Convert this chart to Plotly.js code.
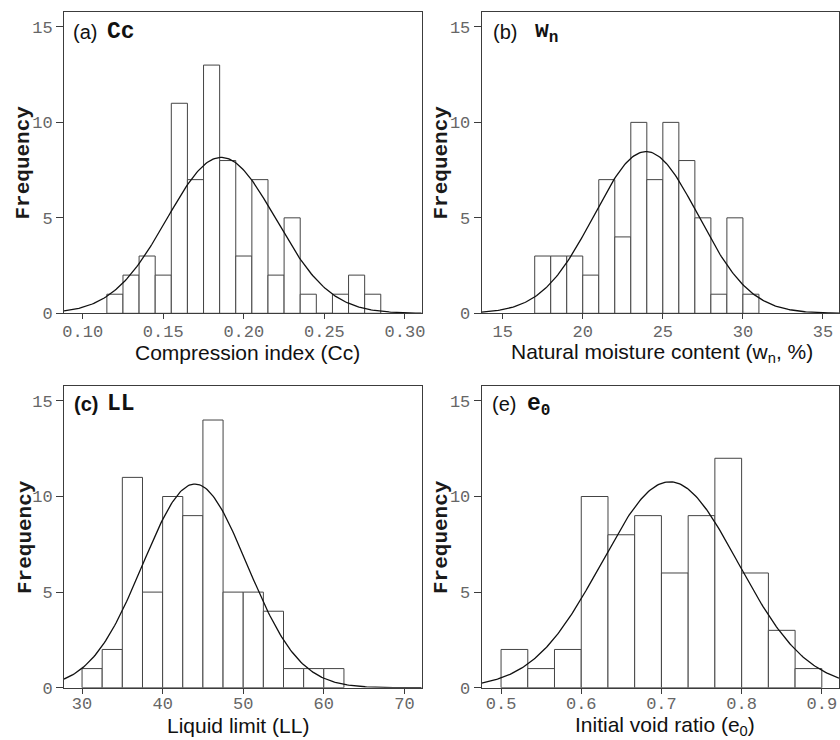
<!DOCTYPE html>
<html>
<head>
<meta charset="utf-8">
<script src="https://cdn.plot.ly/plotly-3.0.1.min.js"></script>
<style>html,body{margin:0;padding:0;background:#fff;}#chart{width:840px;height:740px;}</style>
</head>
<body>
<div id="chart"></div>
<script>
// (a) Compression index Cc — bin centres and counts
const ccBins = [0.12,0.13,0.14,0.15,0.16,0.17,0.18,0.19,0.20,0.21,0.22,0.23,0.24,0.25,0.26,0.27,0.28];
const ccCounts = [1,2,3,2,11,7,13,8,3,7,2,5,1,0,1,2,1];
const ccWidth = 0.01;
const ccMean = 0.186, ccSd = 0.0337;

// (b) Natural moisture content wn
const wnBins = [17.5,18.5,19.5,20.5,21.5,22.5,23.5,24.5,25.5,26.5,27.5,28.5,29.5,30.5];
const wnCounts = [3,3,3,2,7,4,10,7,10,8,5,1,5,1];
const wnWidth = 1;
const wnMean = 23.95, wnSd = 3.25;

// (c) Liquid limit LL
const llBins = [31.25,33.75,36.25,38.75,41.25,43.75,46.25,48.75,51.25,53.75,56.25,58.75,61.25];
const llCounts = [1,2,11,5,10,9,14,5,5,4,1,1,1];
const llWidth = 2.5;
const llMean = 44.0, llSd = 6.46;

// (e) Initial void ratio e0
const e0Bins = [0.5167,0.55,0.5833,0.6167,0.65,0.6833,0.7167,0.75,0.7833,0.8167,0.85,0.8833];
const e0Counts = [2,1,2,10,8,9,6,9,12,6,3,1];
const e0Width = 1/30;
const e0Mean = 0.7104, e0Sd = 0.0852;

const xRanges = {
  a: [0.0884, 0.3104],
  b: [13.69, 36.0],
  c: [27.76, 72.15],
  e: [0.4759, 0.9214]
};

function fitCurve(mean, sd, counts, width, range) {
  const n = counts.reduce((s, v) => s + v, 0);
  const xs = [], ys = [];
  const steps = 240;
  for (let i = 0; i <= steps; i++) {
    const x = range[0] + (range[1] - range[0]) * i / steps;
    const z = (x - mean) / sd;
    xs.push(x);
    ys.push(n * width * Math.exp(-0.5 * z * z) / (sd * Math.sqrt(2 * Math.PI)));
  }
  return {xs, ys};
}

const barStyle = {color: '#ffffff', line: {color: '#444444', width: 1}};
const panels = [
  {k: 'a', xa: 'x',  ya: 'y',  bins: ccBins, counts: ccCounts, w: ccWidth, m: ccMean, s: ccSd},
  {k: 'b', xa: 'x2', ya: 'y2', bins: wnBins, counts: wnCounts, w: wnWidth, m: wnMean, s: wnSd},
  {k: 'c', xa: 'x3', ya: 'y3', bins: llBins, counts: llCounts, w: llWidth, m: llMean, s: llSd},
  {k: 'e', xa: 'x4', ya: 'y4', bins: e0Bins, counts: e0Counts, w: e0Width, m: e0Mean, s: e0Sd}
];

const traces = [];
panels.forEach(p => {
  traces.push({
    type: 'bar', x: p.bins, y: p.counts, width: p.w,
    xaxis: p.xa, yaxis: p.ya, marker: barStyle, hoverinfo: 'x+y', showlegend: false
  });
  const c = fitCurve(p.m, p.s, p.counts, p.w, xRanges[p.k]);
  traces.push({
    type: 'scatter', mode: 'lines', x: c.xs, y: c.ys,
    xaxis: p.xa, yaxis: p.ya, line: {color: '#111', width: 1.3}, hoverinfo: 'skip', showlegend: false
  });
});

const tickFont = {family: 'Liberation Mono, DejaVu Sans Mono, monospace', size: 17, color: '#666'};
function xax(domain, range, dtick, fmt, anchor, standoff) {
  return {
    domain: domain, range: range, anchor: anchor, dtick: dtick, tick0: 0, tickformat: fmt,
    showline: true, mirror: true, linecolor: '#3c3c3c', linewidth: 1,
    ticks: 'outside', ticklen: 5, tickcolor: '#3c3c3c', tickwidth: 1,
    ticklabelstandoff: standoff,
    showgrid: false, zeroline: false, tickfont: tickFont, fixedrange: true
  };
}
function yax(domain, anchor) {
  return {
    domain: domain, range: [0, 15.78], anchor: anchor, dtick: 5, tick0: 0,
    showline: true, mirror: true, linecolor: '#3c3c3c', linewidth: 1,
    ticks: 'outside', ticklen: 7, tickcolor: '#3c3c3c', tickwidth: 1,
    showgrid: false, zeroline: false, tickfont: tickFont, fixedrange: true
  };
}

const W = 840, H = 740;
const px = v => v / W;
const py = v => 1 - v / H;
const xL = [px(64), px(421.7)], xR = [px(481.7), px(839)];
const yT = [py(313.3), py(12)], yB = [py(687.7), py(386)];

const sansFont = 'Liberation Sans, Arial, sans-serif';
const monoFont = 'Liberation Mono, DejaVu Sans Mono, monospace';
function ann(text, x, y, font, xanchor) {
  return {text: text, x: px(x), y: py(y), xref: 'paper', yref: 'paper',
          xanchor: xanchor || 'center', yanchor: 'middle', showarrow: false, font: font};
}
const freqFont = {family: monoFont, size: 21, color: '#1a1a1a', weight: 'bold'};
const xtFont = {family: sansFont, size: 21, color: '#111'};
const labFont = {family: sansFont, size: 20, color: '#111'};
const symFont = {family: monoFont, size: 23, color: '#111', weight: 'bold'};

const annotations = [
  // y-axis titles
  Object.assign(ann('Frequency', 23, 162.5, freqFont), {textangle: -90}),
  Object.assign(ann('Frequency', 441, 162.5, freqFont), {textangle: -90}),
  Object.assign(ann('Frequency', 25, 537, freqFont), {textangle: -90}),
  Object.assign(ann('Frequency', 441, 537, freqFont), {textangle: -90}),
  // x-axis titles
  ann('Compression index (Cc)', 247, 352, xtFont),
  ann('Natural moisture content (w<sub>n</sub>, %)', 661.7, 353, xtFont),
  ann('Liquid limit (LL)', 238, 725, xtFont),
  ann('Initial void ratio (e<sub>0</sub>)', 665, 726, xtFont),
  // panel labels
  ann('(a)', 71, 32, labFont, 'left'),
  ann('Cc', 105, 32, symFont, 'left'),
  ann('(b)', 491, 32, labFont, 'left'),
  ann('w<sub>n</sub>', 533, 32, symFont, 'left'),
  ann('<b>(c)</b>', 72, 404, labFont, 'left'),
  ann('LL', 105, 404, symFont, 'left'),
  ann('(e)', 490, 404, labFont, 'left'),
  ann('e<sub>0</sub>', 525, 406, symFont, 'left')
];

const layout = {
  width: W, height: H,
  margin: {l: 0, r: 0, t: 0, b: 0},
  paper_bgcolor: '#ffffff', plot_bgcolor: '#ffffff',
  bargap: 0, showlegend: false,
  xaxis:  xax(xL, xRanges.a, 0.05, '.2f', 'y', -3),
  yaxis:  yax(yT, 'x'),
  xaxis2: xax(xR, xRanges.b, 5, 'd', 'y2', -3),
  yaxis2: yax(yT, 'x2'),
  xaxis3: xax(xL, xRanges.c, 10, 'd', 'y3', -5),
  yaxis3: yax(yB, 'x3'),
  xaxis4: xax(xR, xRanges.e, 0.1, '.1f', 'y4', -5),
  yaxis4: yax(yB, 'x4'),
  annotations: annotations
};

Plotly.newPlot('chart', traces, layout, {displayModeBar: false, staticPlot: true});
</script>
</body>
</html>
